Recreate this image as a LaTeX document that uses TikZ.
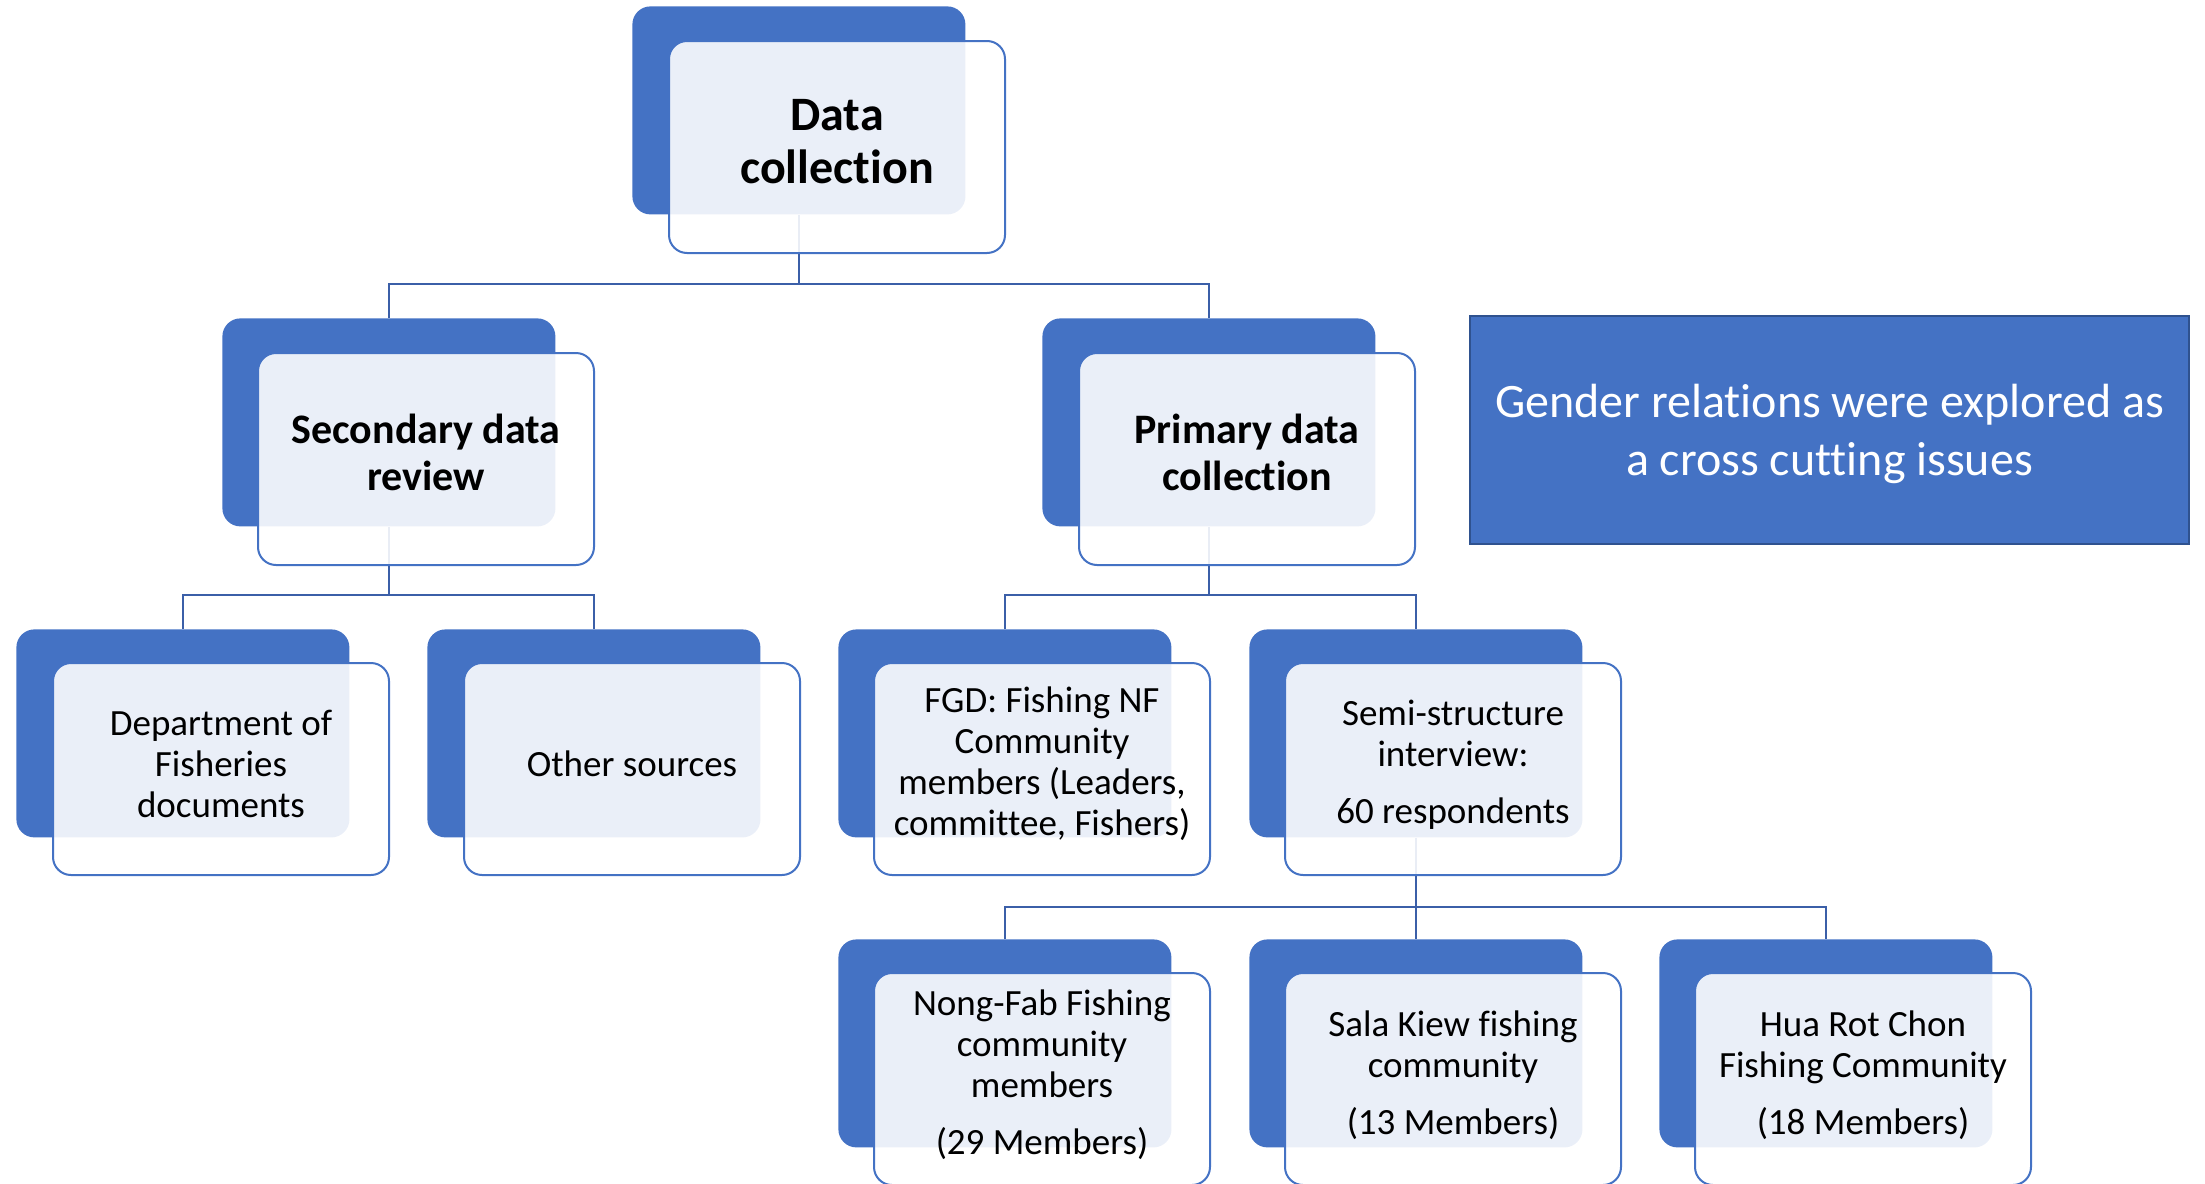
\documentclass[tikz,border=0pt]{standalone}
\usepackage{fontspec}
\setmainfont{Carlito}[Ligatures=NoCommon]
\usetikzlibrary{calc,backgrounds}
\definecolor{sablue}{HTML}{4472C4}
\definecolor{connblue}{HTML}{3B5FA8}
\definecolor{gborder}{HTML}{2F528F}
\tikzset{
  bluebox/.style={fill=sablue, draw=none, rounded corners=9pt, minimum width=166.5pt, minimum height=104pt, inner sep=0pt, anchor=north west},
  whitebox/.style={fill=white, fill opacity=0.89, draw=sablue, line width=1pt, rounded corners=9pt, minimum width=168pt, minimum height=106pt, inner sep=0pt, anchor=north west},
  txt/.style={align=center, inner sep=0pt, text=black},
  conn/.style={draw=connblue, line width=1.2pt},
  topfont/.style={font=\fontsize{24}{26.5}\selectfont\bfseries},
  midfont/.style={font=\fontsize{21}{23.5}\selectfont\bfseries},
  leaffont/.style={font=\fontsize{18.5}{20.5}\selectfont},
  gbox/.style={fill=sablue, draw=gborder, line width=1pt, minimum width=359.5pt, minimum height=114pt, inner sep=0pt, anchor=north west},
  gtxt/.style={align=center, text=white, inner sep=0pt, font=\fontsize{24}{29}\selectfont}
}
\begin{document}
\begin{tikzpicture}[x=0.5pt,y=-0.5pt]
\useasboundingbox (0,0) rectangle (2205,1183);
% level 1
\node[bluebox] (dcb) at (632,6) {};
\node[whitebox] (dc) at (668,40) {};
\node[txt, topfont] (dct) at ($(dc.center)+(0,-5)$) {Data\\collection};
% level 2
\node[bluebox] (secb) at (222,318) {};
\node[whitebox] (sec) at (257,352) {};
\node[txt, midfont] (sect) at ($(sec.center)+(0,-7)$) {Secondary data\\review};
\node[bluebox] (prib) at (1042,318) {};
\node[whitebox] (pri) at (1078,352) {};
\node[txt, midfont] (prit) at ($(pri.center)+(0,-7)$) {Primary data\\collection};
% level 3
\node[bluebox] (depb) at (16,629) {};
\node[whitebox] (dep) at (52,662) {};
\node[txt, leaffont] (dept) at ($(dep.center)+(0,-5)$) {Department of\\Fisheries\\documents};
\node[bluebox] (othb) at (427,629) {};
\node[whitebox] (oth) at (463,662) {};
\node[txt, leaffont] (otht) at ($(oth.center)+(0,-5)$) {Other sources};
\node[bluebox] (fgdb) at (838,629) {};
\node[whitebox] (fgd) at (873,662) {};
\node[txt, leaffont] (fgdt) at ($(fgd.center)+(0,-5)$) {FGD: Fishing NF\\Community\\members (Leaders,\\committee, Fishers)};
\node[bluebox] (semb) at (1249,629) {};
\node[whitebox] (sem) at (1284,662) {};
\node[txt, leaffont] (semt) at ($(sem.center)+(0,-4)$) {Semi-structure\\interview:\\[8pt]60 respondents};
% level 4
\node[bluebox] (nonb) at (838,939) {};
\node[whitebox] (non) at (873,972) {};
\node[txt, leaffont] (nont) at ($(non.center)+(0,-4)$) {Nong-Fab Fishing\\community\\members\\[8pt](29 Members)};
\node[bluebox] (salb) at (1249,939) {};
\node[whitebox] (sal) at (1284,972) {};
\node[txt, leaffont] (salt) at ($(sal.center)+(0,-4)$) {Sala Kiew fishing\\community\\[8pt](13 Members)};
\node[bluebox] (huab) at (1659,939) {};
\node[whitebox] (hua) at (1694,972) {};
\node[txt, leaffont] (huat) at ($(hua.center)+(0,-4)$) {Hua Rot Chon\\Fishing Community\\[8pt](18 Members)};
% gender box
\node[gbox] (gen) at (1469,315) {};
\node[gtxt] (gent) at ($(gen.center)+(0,4)$) {Gender relations were explored as\\a cross cutting issues};
% connectors
\begin{scope}[on background layer]
\draw[conn] (dcb.south) |- ($(secb.north)+(0,-34)$) -- (secb.north);
\draw[conn] (dcb.south) |- ($(prib.north)+(0,-34)$) -- (prib.north);
\draw[conn] (secb.south) |- ($(depb.north)+(0,-34)$) -- (depb.north);
\draw[conn] (secb.south) |- ($(othb.north)+(0,-34)$) -- (othb.north);
\draw[conn] (prib.south) |- ($(fgdb.north)+(0,-34)$) -- (fgdb.north);
\draw[conn] (prib.south) |- ($(semb.north)+(0,-34)$) -- (semb.north);
\draw[conn] (semb.south) |- ($(nonb.north)+(0,-32)$) -- (nonb.north);
\draw[conn] (semb.south) -- (salb.north);
\draw[conn] (semb.south) |- ($(huab.north)+(0,-32)$) -- (huab.north);
\end{scope}
\end{tikzpicture}
\end{document}
